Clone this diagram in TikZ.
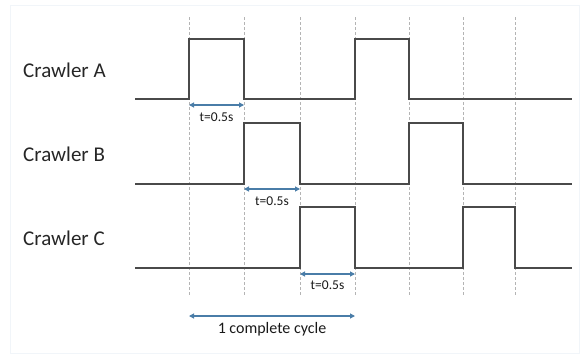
\documentclass[tikz,border=0pt]{standalone}
\usepackage{fontspec}
\setmainfont{Carlito}
\usetikzlibrary{arrows.meta}
\definecolor{sig}{HTML}{4A4A4A}
\definecolor{grid}{HTML}{B4B4B4}
\definecolor{arr}{HTML}{4A7DA8}
\definecolor{frame}{HTML}{F1F5F9}
\tikzset{
  signal/.style={draw=sig, line width=1.3pt, line join=miter},
  gridline/.style={draw=grid, line width=0.6pt, dash pattern=on 2.5pt off 2.5pt},
  dimarrow/.style={draw=arr, line width=1.1pt, {Triangle[length=5pt,width=5pt]}-{Triangle[length=5pt,width=5pt]}},
  lbl/.style={font=\fontsize{21}{24}\selectfont, anchor=west, text=black!85, inner sep=0pt},
  tlbl/.style={font=\fontsize{13.5}{15}\selectfont, text=black!90, inner sep=0pt},
  clbl/.style={font=\fontsize{16}{18}\selectfont, text=black!90, inner sep=0pt}
}
\begin{document}
\begin{tikzpicture}[x=1pt,y=-1pt]
\useasboundingbox (0,0) rectangle (580,356);
\draw[frame, line width=1pt] (10,5) rectangle (579,353);
% grid lines
\foreach \x in {189,244,300,355,409,463,515}
  \draw[gridline] (\x,17) -- (\x,296);
% labels
\node[lbl] (la) at (23,70) {Crawler A};
\node[lbl] (lb) at (23,154) {Crawler B};
\node[lbl] (lc) at (23,238) {Crawler C};
% signals
\draw[signal] (135,99) -- (189,99) -- (189,39) -- (244,39) -- (244,99) -- (355,99) -- (355,39) -- (409,39) -- (409,99) -- (572,99);
\draw[signal] (135,184) -- (244,184) -- (244,123) -- (300,123) -- (300,184) -- (409,184) -- (409,123) -- (463,123) -- (463,184) -- (572,184);
\draw[signal] (135,268) -- (300,268) -- (300,207) -- (355,207) -- (355,268) -- (463,268) -- (463,207) -- (515,207) -- (515,268) -- (572,268);
% dimension arrows
\coordinate (a1) at (189,105); \coordinate (a2) at (244,105);
\coordinate (b1) at (244,189); \coordinate (b2) at (300,189);
\coordinate (c1) at (300,274); \coordinate (c2) at (355,274);
\coordinate (d1) at (189,316); \coordinate (d2) at (355,316);
\draw[dimarrow] (a1) -- (a2);
\draw[dimarrow] (b1) -- (b2);
\draw[dimarrow] (c1) -- (c2);
\draw[dimarrow] (d1) -- (d2);
\node[tlbl] (ta) at (216.5,117) {t=0.5s};
\node[tlbl] (tb) at (272,201) {t=0.5s};
\node[tlbl] (tc) at (327.5,285) {t=0.5s};
\node[clbl] (tcyc) at (272,329) {1 complete cycle};
\end{tikzpicture}
\end{document}
